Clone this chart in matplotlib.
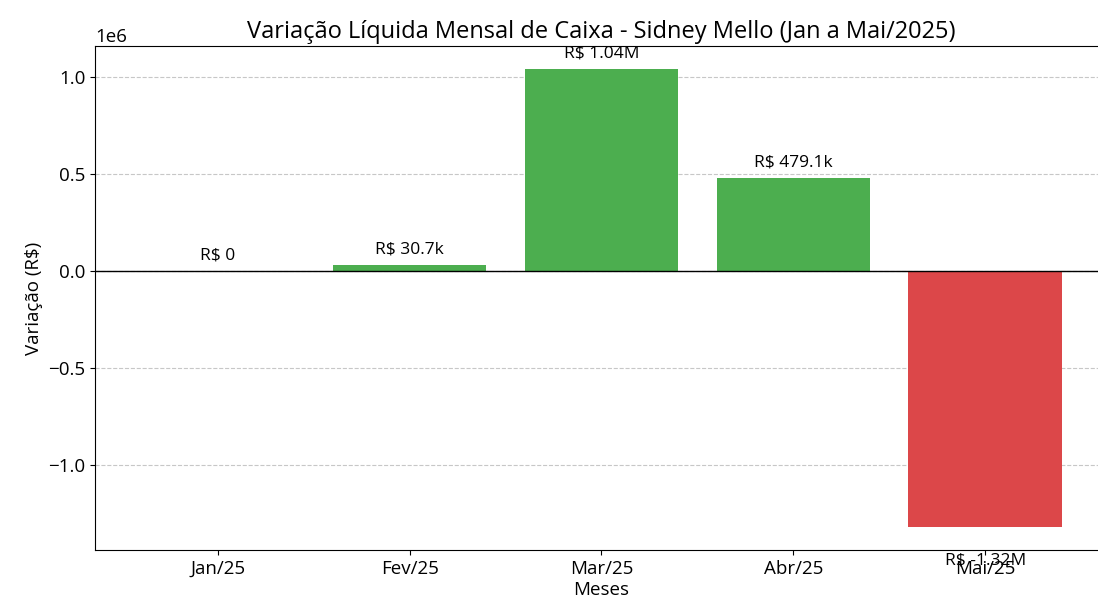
import numpy as np
import matplotlib
matplotlib.use('Agg')
import matplotlib.pyplot as plt

plt.rcParams['font.family'] = ['Open Sans', 'DejaVu Sans']

meses = ['Jan/25', 'Fev/25', 'Mar/25', 'Abr/25', 'Mai/25']
variacao = [0, 30700, 1040000, 479100, -1320000]
rotulos = ['R$ 0', 'R$ 30.7k', 'R$ 1.04M', 'R$ 479.1k', 'R$ -1.32M']

cores = ['#4CAE4F' if v >= 0 else '#DC4749' for v in variacao]

fig = plt.figure(figsize=(10.98, 6.04), dpi=100)
ax = fig.add_axes([0.0865, 0.0894, 0.9226, 0.8344])

x = np.arange(len(meses))
bars = ax.bar(x, variacao, color=cores, width=0.8, zorder=2)
ax.axhline(0, color='black', linewidth=1.0, zorder=3)

for xi, v, lab in zip(x, variacao, rotulos):
    if v >= 0:
        ax.text(xi, v + 40000, lab, ha='center', va='bottom', fontsize=12.5)
    else:
        ax.text(xi, v - 130000, lab, ha='center', va='top', fontsize=12.5)

ax.set_xticks(x)
ax.set_xticklabels(meses, fontsize=13.5)
ax.tick_params(axis='y', labelsize=13.5)
ax.set_xlabel('Meses', fontsize=13.5, labelpad=2)
ax.set_ylabel('Variação (R$)', fontsize=13.5)
ax.set_title('Variação Líquida Mensal de Caixa - Sidney Mello (Jan a Mai/2025)', fontsize=17)
ax.yaxis.get_offset_text().set_fontsize(13.5)
ax.grid(axis='y', linestyle='--', alpha=0.7, zorder=0)
ax.set_axisbelow(True)

fig.savefig('out.png', dpi=100)
